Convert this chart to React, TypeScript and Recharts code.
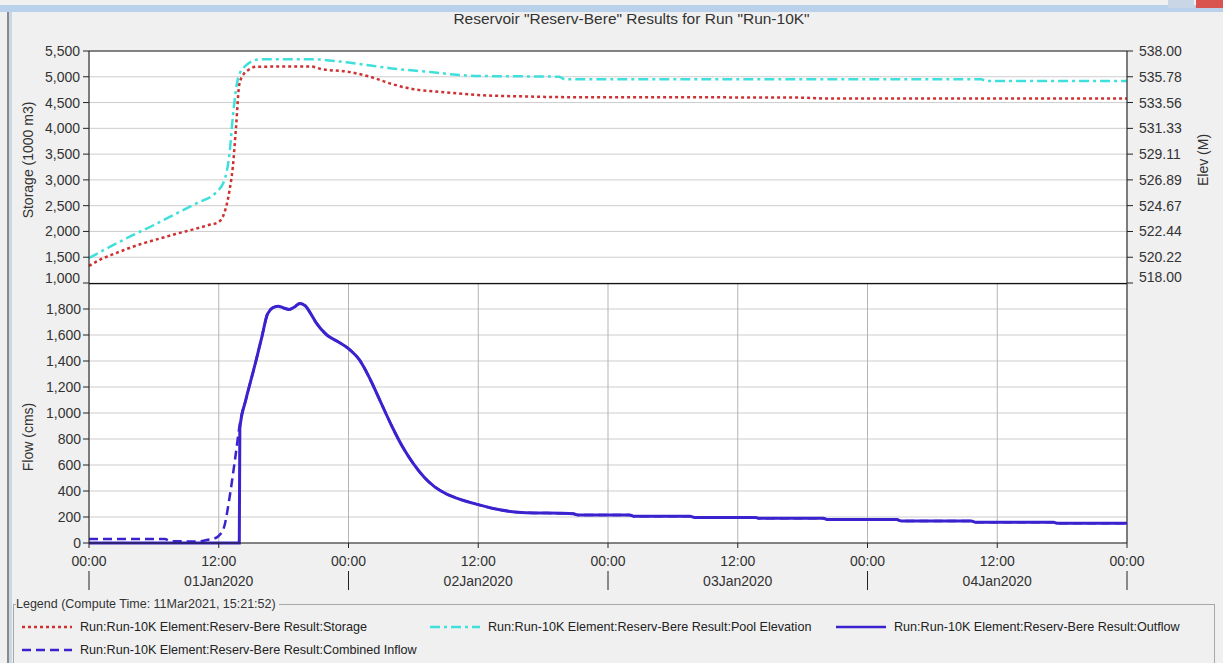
import React from 'react';
import { LineChart, Line, XAxis, YAxis, CartesianGrid, ReferenceLine } from 'recharts';

// time axis in hours from 01Jan2020 00:00
const xTicks = [0, 12, 24, 36, 48, 60, 72, 84, 96];
const dateLabels = ['01Jan2020', '02Jan2020', '03Jan2020', '04Jan2020'];
const storageTicks = [1000, 1500, 2000, 2500, 3000, 3500, 4000, 4500, 5000, 5500];
const elevTicks = [518, 520.22, 522.44, 524.67, 526.89, 529.11, 531.33, 533.56, 535.78, 538];
const flowTicks = [0, 200, 400, 600, 800, 1000, 1200, 1400, 1600, 1800];

const storageHours = [0, 1, 2, 3, 4, 5, 6, 7, 8, 9, 10, 11, 12, 12.5, 13, 13.3, 13.6, 13.9, 14.3, 14.8, 15.5, 20.5, 21.5, 24, 26, 28, 30, 32, 34, 36, 40, 44, 60, 66, 68, 96];
const storage = [1330, 1450, 1540, 1620, 1700, 1770, 1830, 1890, 1950, 2005, 2060, 2120, 2185, 2350, 2800, 3250, 4030, 4850, 5050, 5140, 5195, 5200, 5150, 5095, 5000, 4860, 4760, 4715, 4680, 4645, 4620, 4605, 4600, 4595, 4580, 4580];

const elevHours = [0, 2, 4, 6, 8, 10, 11.8, 12.5, 13, 13.3, 13.8, 14.4, 15.8, 20.7, 24, 28, 32, 34, 36, 43.5, 44, 82.5, 83, 96];
const poolElev = [520.15, 521.15, 522.1, 523.0, 523.95, 524.9, 525.85, 526.8, 529.2, 532.3, 535.7, 536.65, 537.28, 537.28, 537.0, 536.5, 536.15, 535.95, 535.85, 535.78, 535.56, 535.56, 535.42, 535.42];

const inflowHours = [0, 7, 7.6, 10, 11, 11.5, 12, 12.5, 13, 13.5, 14, 14.5, 15, 15.5, 16, 16.5, 17, 17.5, 18, 18.5, 19, 19.5, 20, 20.5, 21, 22, 23, 24, 25, 26, 27, 28, 29, 30, 31, 32, 33, 34, 36, 38, 40, 44.8, 45.2, 50, 50.4, 55.6, 56, 61.6, 62, 67.9, 68.3, 74.7, 75.1, 81.6, 82, 89.2, 89.6, 96];
const inflow = [30, 30, 14, 12, 25, 32, 55, 125, 350, 640, 940, 1100, 1260, 1420, 1590, 1760, 1810, 1822, 1808, 1797, 1815, 1843, 1825, 1765, 1695, 1600, 1550, 1495, 1410, 1260, 1080, 900, 740, 610, 505, 430, 380, 345, 295, 255, 235, 225, 215, 215, 205, 205, 197, 197, 190, 190, 180, 180, 170, 170, 160, 160, 151, 151];

const outflowHours = [0, 13.9, 13.95, 14.5, 15, 15.5, 16, 16.5, 17, 17.5, 18, 18.5, 19, 19.5, 20, 20.5, 21, 22, 23, 24, 25, 26, 27, 28, 29, 30, 31, 32, 33, 34, 36, 38, 40, 44.8, 45.2, 50, 50.4, 55.6, 56, 61.6, 62, 67.9, 68.3, 74.7, 75.1, 81.6, 82, 89.2, 89.6, 96];
const outflow = [0, 0, 880, 1100, 1260, 1420, 1590, 1760, 1810, 1822, 1808, 1797, 1815, 1843, 1825, 1765, 1695, 1600, 1550, 1495, 1410, 1260, 1080, 900, 740, 610, 505, 430, 380, 345, 295, 255, 235, 225, 215, 215, 205, 205, 197, 197, 190, 190, 180, 180, 170, 170, 160, 160, 151, 151];

const toRows = (hours: number[], values: number[]) => hours.map((h, i) => ({ h, v: values[i] }));

const FONT = '"Liberation Sans", Arial, sans-serif';
const TXT = '#333';
const RED = '#cf3030';
const CYAN = '#3fe0dc';
const BLUE = '#3a22cf';

const legendItems = [
  { label: 'Run:Run-10K Element:Reserv-Bere Result:Storage', color: RED, dash: '3 3', left: 22, top: 627 },
  { label: 'Run:Run-10K Element:Reserv-Bere Result:Pool Elevation', color: CYAN, dash: '10 4 3 4', left: 430, top: 627 },
  { label: 'Run:Run-10K Element:Reserv-Bere Result:Outflow', color: BLUE, dash: undefined, left: 836, top: 627 },
  { label: 'Run:Run-10K Element:Reserv-Bere Result:Combined Inflow', color: BLUE, dash: '9 5', left: 22, top: 650 },
];

function StorageTick({ x, y, payload }: any) {
  const shift = payload.value === 1000 ? -5 : 0;
  return (
    <text x={x} y={y + shift} dy={5} textAnchor="start" dx={-36} fontSize={14} fill={TXT} fontFamily={FONT}>
      {payload.value.toLocaleString('en-US')}
    </text>
  );
}

function ElevTick({ x, y, payload }: any) {
  // bottom label sits on the panel divider, lift it so it stays readable
  const shift = payload.value === 518 ? -6 : 0;
  return (
    <text x={x} y={y + shift} dy={5} textAnchor="start" fontSize={14} fill={TXT} fontFamily={FONT}>
      {payload.value.toFixed(2)}
    </text>
  );
}

function TimeTick({ x, y, payload }: any) {
  const h = payload.value;
  const noon = h % 24 === 12;
  return (
    <g>
      <text x={x} y={y + 18} textAnchor="middle" fontSize={14} fill={TXT} fontFamily={FONT}>
        {noon ? '12:00' : '00:00'}
      </text>
      {noon ? (
        <text x={x} y={y + 38} textAnchor="middle" fontSize={14} fill={TXT} fontFamily={FONT}>
          {dateLabels[Math.floor(h / 24)]}
        </text>
      ) : (
        <line x1={x} x2={x} y1={y + 23} y2={y + 42} stroke="#222" />
      )}
    </g>
  );
}

function AxisTitle({ text, cx, cy }: { text: string; cx: number; cy: number }) {
  return (
    <div
      style={{
        position: 'absolute',
        left: cx,
        top: cy,
        transform: 'translate(-50%, -50%) rotate(-90deg)',
        whiteSpace: 'nowrap',
        fontSize: 14,
        color: TXT,
      }}
    >
      {text}
    </div>
  );
}

export default function App() {
  return (
    <div style={{ position: 'relative', width: 1223, height: 663, background: '#f0f0f0', overflow: 'hidden', fontFamily: FONT }}>
      <style>{'body{margin:0}'}</style>
      <div style={{ position: 'absolute', left: 0, top: 5, width: 1223, height: 7, background: '#b9d1ea' }} />
      <div style={{ position: 'absolute', left: 1168, top: 0, width: 26, height: 8, background: '#c8d6e6' }} />
      <div style={{ position: 'absolute', left: 1196, top: 0, width: 27, height: 8, background: '#d9534f' }} />
      <div style={{ position: 'absolute', left: 7, top: 12, width: 2, height: 651, background: '#8a8a8a' }} />
      <div style={{ position: 'absolute', left: 9, top: 12, width: 3, height: 651, background: '#c9d7e6' }} />

      <div style={{ position: 'absolute', top: 10, left: 40, width: 1183, textAlign: 'center', fontSize: 15.5, color: TXT }}>
        Reservoir "Reserv-Bere" Results for Run "Run-10K"
      </div>

      <div style={{ position: 'absolute', left: 0, top: 0 }}>
        <LineChart width={1223} height={286} margin={{ top: 51, right: 0, bottom: 3, left: 0 }}>
          <CartesianGrid yAxisId="s" fill="#fff" vertical={false} stroke="#cdcdcd" />
          <CartesianGrid yAxisId="s" horizontal={false} stroke="#b4b4b4" />
          <XAxis type="number" dataKey="h" domain={[0, 96]} ticks={xTicks} height={0} tick={false} tickLine={false} axisLine={false} />
          <YAxis
            yAxisId="s"
            width={89}
            domain={[1000, 5500]}
            ticks={storageTicks}
            tick={<StorageTick />}
            tickSize={6}
            tickMargin={2}
            stroke="#222"
            interval={0}
          />
          <YAxis
            yAxisId="e"
            orientation="right"
            width={96}
            domain={[518, 538]}
            ticks={elevTicks}
            tick={<ElevTick />}
            tickSize={6}
            tickMargin={6}
            stroke="#222"
            interval={0}
          />
          <ReferenceLine yAxisId="s" y={5500} stroke="#222" />
          <Line data={toRows(storageHours, storage)} dataKey="v" yAxisId="s" type="monotone" stroke={RED} strokeWidth={2.5} strokeDasharray="3 3" dot={false} isAnimationActive={false} />
          <Line data={toRows(elevHours, poolElev)} dataKey="v" yAxisId="e" type="monotone" stroke={CYAN} strokeWidth={2.5} strokeDasharray="10 4 3 4" dot={false} isAnimationActive={false} />
        </LineChart>
      </div>

      <div style={{ position: 'absolute', left: 0, top: 283 }}>
        <LineChart width={1223} height={320} margin={{ top: 0, right: 96, bottom: 0, left: 0 }}>
          <CartesianGrid fill="#fff" vertical={false} stroke="#cdcdcd" />
          <CartesianGrid horizontal={false} stroke="#b4b4b4" />
          <XAxis
            type="number"
            dataKey="h"
            domain={[0, 96]}
            ticks={xTicks}
            height={60}
            tick={<TimeTick />}
            tickSize={5}
            tickMargin={0}
            stroke="#222"
            interval={0}
          />
          <YAxis
            width={89}
            domain={[0, 2000]}
            ticks={flowTicks}
            tickFormatter={(v: number) => v.toLocaleString('en-US')}
            tick={{ fontSize: 14, fill: TXT, fontFamily: FONT }}
            tickSize={6}
            tickMargin={2}
            stroke="#222"
            interval={0}
          />
          <ReferenceLine y={2000} stroke="#111" strokeWidth={2.5} />
          <ReferenceLine x={96} stroke="#222" />
          <Line data={toRows(inflowHours, inflow)} dataKey="v" type="monotone" stroke={BLUE} strokeWidth={2.5} strokeDasharray="9 5" dot={false} isAnimationActive={false} />
          <Line data={toRows(outflowHours, outflow)} dataKey="v" type="monotone" stroke={BLUE} strokeWidth={3} dot={false} isAnimationActive={false} />
        </LineChart>
      </div>

      <AxisTitle text="Storage (1000 m3)" cx={28} cy={160} />
      <AxisTitle text="Flow (cms)" cx={28} cy={437} />
      <AxisTitle text="Elev (M)" cx={1203} cy={160} />

      <div style={{ position: 'absolute', left: 13, top: 604, width: 1202, height: 80, border: '1px solid #a8a8a8', boxSizing: 'border-box' }}>
        <div style={{ position: 'absolute', left: 2, top: -8, background: '#f0f0f0', fontSize: 12.5, color: TXT, paddingRight: 3, lineHeight: '15px' }}>
          Legend (Compute Time: 11Mar2021, 15:21:52)
        </div>
      </div>
      {legendItems.map((it) => (
        <div key={it.label} style={{ position: 'absolute', left: it.left, top: it.top - 8, display: 'flex', alignItems: 'center', height: 16 }}>
          <svg width={50} height={6} style={{ marginRight: 8 }}>
            <line x1={0} x2={50} y1={3} y2={3} stroke={it.color} strokeWidth={2.5} strokeDasharray={it.dash} />
          </svg>
          <span style={{ fontSize: 12.6, color: '#222', whiteSpace: 'nowrap' }}>{it.label}</span>
        </div>
      ))}
    </div>
  );
}
